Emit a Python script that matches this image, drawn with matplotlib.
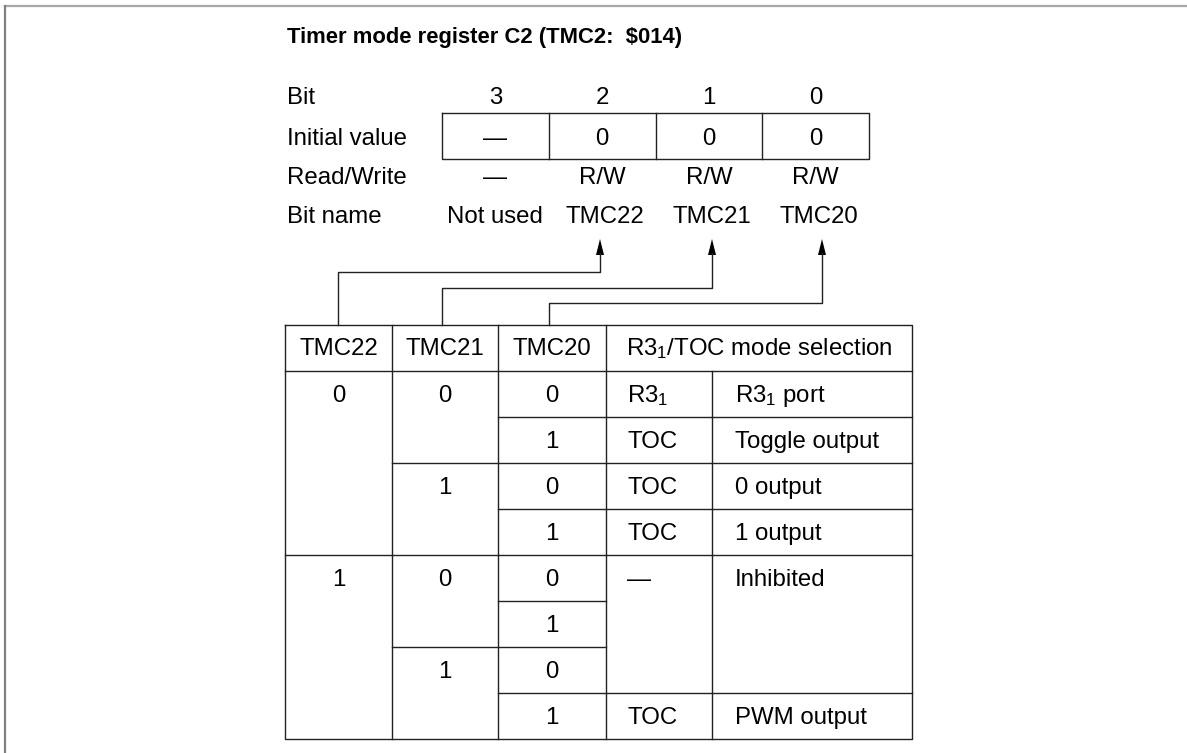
import matplotlib.pyplot as plt
from matplotlib.patches import Polygon

plt.rcParams['font.family'] = ['Liberation Sans', 'DejaVu Sans']
plt.rcParams['mathtext.fontset'] = 'custom'
plt.rcParams['mathtext.rm'] = 'Liberation Sans'
plt.rcParams['mathtext.it'] = 'Liberation Sans'

# Register header
titulo = 'Timer mode register C2 (TMC2:  \\$014)'
etiquetas = ['Bit', 'Initial value', 'Read/Write', 'Bit name']
bits = ['3', '2', '1', '0']
inicial = ['—', '0', '0', '0']
lectura = ['—', 'R/W', 'R/W', 'R/W']
nombres = ['Not used', 'TMC22', 'TMC21', 'TMC20']

# Mode table (value, number of rows it spans)
cabecera = ['TMC22', 'TMC21', 'TMC20', 'R3$_\\mathrm{1}$/TOC mode selection']
tmc22 = [('0', 4), ('1', 4)]
tmc21 = [('0', 2), ('1', 2), ('0', 2), ('1', 2)]
tmc20 = [('0', 1), ('1', 1), ('0', 1), ('1', 1), ('0', 1), ('1', 1), ('0', 1), ('1', 1)]
pin = [('R3$_\\mathrm{1}$', 1), ('TOC', 1), ('TOC', 1), ('TOC', 1), ('—', 3), ('TOC', 1)]
modo = [('R3$_\\mathrm{1}$ port', 1), ('Toggle output', 1), ('0 output', 1),
        ('1 output', 1), ('Inhibited', 3), ('PWM output', 1)]

W, H = 1187, 753
fig = plt.figure(figsize=(W / 100, H / 100), dpi=100)
ax = fig.add_axes([0, 0, 1, 1])
ax.set_xlim(0, W)
ax.set_ylim(H, 0)
ax.axis('off')

fs = 17.3
col = '#222222'
lw = 1.0

# outer frame (top and left only)
ax.plot([4.5, W], [5.5, 5.5], color='#a8a8a8', lw=1.6)
ax.plot([5, 5], [5.5, H], color='#808080', lw=1.6)

ax.text(287, 37, titulo, fontsize=15.8, fontweight='bold', va='center', ha='left')

filas_y = [98, 139, 178, 217]
for y, t in zip(filas_y, etiquetas):
    ax.text(287, y, t, fontsize=fs, va='center', ha='left')

# register box
bx0, bw = 442, 106.75
btop, bbot = 113, 159
ax.plot([bx0, bx0 + 4 * bw, bx0 + 4 * bw, bx0, bx0],
        [btop, btop, bbot, bbot, btop], color=col, lw=lw)
for i in range(1, 4):
    ax.plot([bx0 + i * bw] * 2, [btop, bbot], color=col, lw=lw)
for i in range(4):
    cx = bx0 + (i + 0.5) * bw
    ax.text(cx, filas_y[0], bits[i], fontsize=fs, ha='center', va='center')
    ax.text(cx, filas_y[1], inicial[i], fontsize=fs, ha='center', va='center')
    ax.text(cx, filas_y[2], lectura[i], fontsize=fs, ha='center', va='center')
    ax.text(cx + (3 if i else 0), filas_y[3], nombres[i], fontsize=fs, ha='center', va='center')

# table geometry
xs = [285, 392, 498, 606, 712, 912]
ttop = 325
rh = 46
hbot = ttop + rh
tbot = hbot + 8 * rh

# connectors from table header to bit names
conectores = [(338, 272, 600), (442, 288, 712), (549, 303, 822)]
tip = 239
for x0, yh, x1 in conectores:
    ax.plot([x0, x0, x1, x1], [ttop, yh, yh, tip + 14], color=col, lw=lw)
    ax.add_patch(Polygon([[x1, tip], [x1 - 4, tip + 16], [x1 + 4, tip + 16]],
                         closed=True, color='black', lw=0))

# table outline
ax.plot([xs[0], xs[-1], xs[-1], xs[0], xs[0]], [ttop, ttop, tbot, tbot, ttop], color=col, lw=lw)
ax.plot([xs[0], xs[-1]], [hbot, hbot], color=col, lw=lw)
for x in xs[1:4]:
    ax.plot([x, x], [ttop, tbot], color=col, lw=lw)
ax.plot([xs[4], xs[4]], [hbot, tbot], color=col, lw=lw)

# header text
for i in range(3):
    ax.text((xs[i] + xs[i + 1]) / 2, (ttop + hbot) / 2 + 1, cabecera[i],
            fontsize=fs, ha='center', va='center')
ax.text((xs[3] + xs[5]) / 2, (ttop + hbot) / 2 + 1, cabecera[3],
        fontsize=fs, ha='center', va='center')


def columna(datos, xa, xb, xt, ha):
    fila = 0
    for valor, span in datos:
        yc = hbot + fila * rh + rh / 2 + 2
        ax.text(xt, yc, valor, fontsize=fs, ha=ha, va='center')
        fila += span
        if fila < 8:
            ax.plot([xa, xb], [hbot + fila * rh] * 2, color=col, lw=lw)


columna(tmc22, xs[0], xs[1], (xs[0] + xs[1]) / 2, 'center')
columna(tmc21, xs[1], xs[2], (xs[1] + xs[2]) / 2, 'center')
columna(tmc20, xs[2], xs[3], (xs[2] + xs[3]) / 2, 'center')
columna(pin, xs[3], xs[4], xs[3] + 21, 'left')
columna(modo, xs[4], xs[5], xs[4] + 23, 'left')

fig.savefig('out.png', dpi=100, facecolor='white')
